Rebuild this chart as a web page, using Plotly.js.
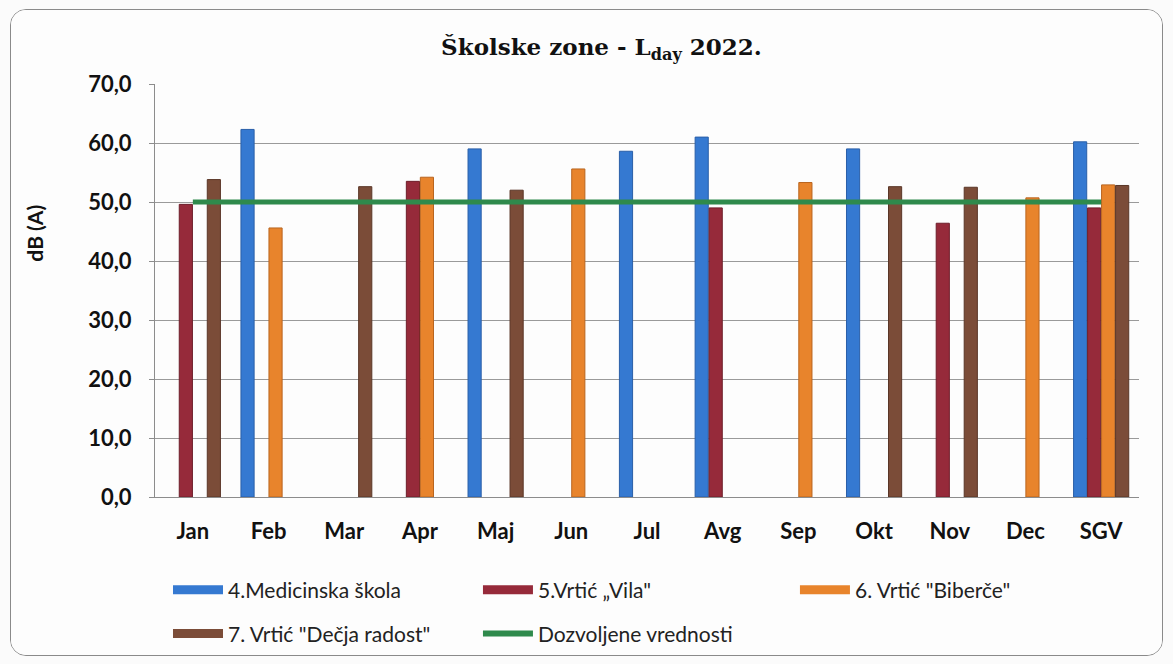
<!DOCTYPE html>
<html>
<head>
<meta charset="utf-8">
<script src="https://cdn.plot.ly/plotly-3.0.1.min.js"></script>
<style>
  html, body { margin: 0; padding: 0; background: #fbfbfb; }
  #wrap { position: absolute; left: 10px; top: 9px; width: 1151px; height: 645px;
          border: 1px solid #8a8a8a; border-radius: 16px; overflow: hidden; background: #fdfdfd; }
  #chart { width: 1151px; height: 645px; }
</style>
</head>
<body>
<div id="wrap"><div id="chart"></div></div>
<script>
const categories = ["Jan", "Feb", "Mar", "Apr", "Maj", "Jun", "Jul", "Avg", "Sep", "Okt", "Nov", "Dec", "SGV"];
const medicinska = [null, 62.3, null, null, 59.0, null, 58.6, 61.0, null, 59.0, null, null, 60.2];
const vila       = [49.6, null, null, 53.5, null, null, null, 49.0, null, null, 46.4, null, 49.0];
const biberce    = [null, 45.6, null, 54.2, null, 55.6, null, null, 53.3, null, null, 50.7, 52.9];
const decjaRadost= [53.8, null, 52.6, null, 52.0, null, null, null, null, 52.6, 52.5, null, 52.8];
const dozvoljene = [50, 50, 50, 50, 50, 50, 50, 50, 50, 50, 50, 50, 50];

const seriesNames = ["4.Medicinska škola", "5.Vrtić „Vila\"", "6. Vrtić \"Biberče\"", "7. Vrtić \"Dečja radost\"", "Dozvoljene vrednosti"];
const colors = ["#3579d1", "#962a3a", "#e8842c", "#7b4c38", "#2f8a4c"];
const lineColors = ["#2a5fa8", "#6e1e2a", "#b9651f", "#5a3627", "#2f8a4c"];
const seriesData = [medicinska, vila, biberce, decjaRadost];

const traces = [];
seriesData.forEach((vals, i) => {
  traces.push({
    type: "bar", x: categories, y: vals, name: seriesNames[i],
    marker: { color: colors[i], line: { color: lineColors[i], width: 1 } },
    showlegend: false, hoverinfo: "x+y+name"
  });
});
traces.push({
  type: "scatter", mode: "lines", x: categories, y: dozvoljene, name: seriesNames[4],
  line: { color: colors[4], width: 5 }, showlegend: false
});
// legend entries (wide bar-like keys as in the original)
const legendKeys = ["legend", "legend2", "legend3", "legend4", "legend5"];
for (let i = 0; i < 5; i++) {
  traces.push({
    type: "scatter", mode: "lines", x: [null], y: [null], name: seriesNames[i],
    line: { color: colors[i], width: i === 4 ? 6 : 9 }, legend: legendKeys[i],
    showlegend: true, hoverinfo: "skip"
  });
}

const sans = "Lato, Open Sans, sans-serif";
const legendFont = { family: sans, size: 21, color: "#222" };
function leg(x, y) {
  return { x: x, y: y, xref: "container", yref: "container",
           xanchor: "left", yanchor: "middle", orientation: "h",
           font: legendFont, itemwidth: 50, bgcolor: "rgba(0,0,0,0)", borderwidth: 0,
           tracegroupgap: 0, itemclick: false };
}

const layout = {
  width: 1151, height: 645,
  margin: { l: 144, r: 23, t: 74, b: 158, autoexpand: false },
  paper_bgcolor: "#fdfdfd", plot_bgcolor: "#fdfdfd",
  separators: ",.",
  title: {
    text: "<b>Školske zone - L<sub>day</sub> 2022.</b>",
    font: { family: "DejaVu Serif, Liberation Serif, serif", size: 23, color: "#111" },
    x: 0.513, xref: "container", xanchor: "center",
    y: 0.943, yref: "container", yanchor: "middle"
  },
  barmode: "group", bargap: 0.26, bargroupgap: 0.06,
  xaxis: {
    type: "category", categoryorder: "array", categoryarray: categories,
    showgrid: false, showline: true, linecolor: "#8c8c8c", linewidth: 1,
    ticks: "", ticklabelstandoff: 15, automargin: false,
    tickfont: { family: sans, size: 22, color: "#111", weight: "bold" }
  },
  yaxis: {
    range: [0, 70], dtick: 10, tick0: 0, tickformat: ".1f",
    showgrid: true, gridcolor: "#9a9a9a", gridwidth: 1,
    showline: true, linecolor: "#8c8c8c", linewidth: 1,
    ticks: "outside", ticklen: 5, tickcolor: "#8c8c8c", ticklabelstandoff: 13,
    zeroline: false, automargin: false,
    tickfont: { family: sans, size: 22, color: "#111", weight: "bold" }
  },
  annotations: [{
    text: "<b>dB (A)</b>", xref: "paper", yref: "paper", x: -0.122, y: 0.64,
    textangle: -90, showarrow: false, xanchor: "center", yanchor: "middle",
    font: { family: sans, size: 21, color: "#111" }
  }],
  legend: leg(0.1364, 0.1008),
  legend2: leg(0.4057, 0.1008),
  legend3: leg(0.6811, 0.1008),
  legend4: leg(0.1364, 0.0326),
  legend5: leg(0.4057, 0.0326),
  showlegend: true
};

Plotly.newPlot("chart", traces, layout, { displayModeBar: false, responsive: false });
</script>
</body>
</html>
